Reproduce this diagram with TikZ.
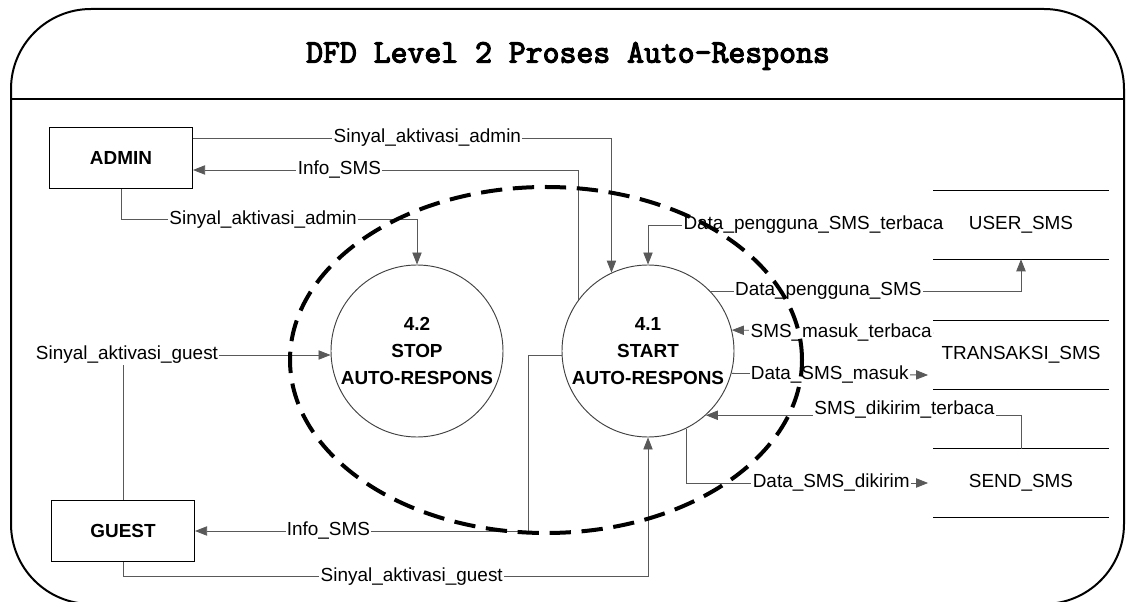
\documentclass[tikz,border=0pt]{standalone}
\usepackage{fontspec}
\setmainfont{Liberation Sans}
\newfontfamily\dfdmono{Latin Modern Mono}[FakeBold=3.5]
\usetikzlibrary{arrows.meta}
\newcommand\dfdsize{\fontsize{14.2pt}{20pt}\selectfont}

\begin{document}
\begin{tikzpicture}[x=0.75pt,y=-0.75pt,font=\dfdsize]
  \tikzset{entity/.style={draw,line width=1.1pt,minimum width=107pt,minimum height=46pt,font=\dfdsize\bfseries},
    proc/.style={circle,draw=black!75,line width=0.7pt,minimum size=129pt,inner sep=0pt,align=center,font=\dfdsize\bfseries},
    store/.style={minimum width=131pt,minimum height=51pt},
    flow/.style={draw=black!65,line width=0.6pt,-{Triangle[length=9pt,width=7pt]}},
    lbl/.style={fill=white,inner sep=1pt,text=black}}
  \useasboundingbox (0,0) rectangle (1129,602);
  \draw[line width=1.5pt,rounded corners=60pt] (11,9) rectangle (1124,604);
  \draw[line width=1.5pt] (11,99) -- (1124,99);
  \node (title) at (568,56) {\dfdmono\fontsize{24.6pt}{28pt}\selectfont DFD Level 2 Proses Auto-Respons};

  \node[entity] (admin) at (121,158) {ADMIN};
  \node[entity] (guest) at (123,531) {GUEST};
  \node[proc] (stop) at (417,351) {4.2\\STOP\\AUTO-RESPONS};
  \node[proc] (start) at (648,351) {4.1\\START\\AUTO-RESPONS};
  \node[store] (user) at (1021,225) {USER\_SMS};
  \node[store] (trans) at (1021,355) {TRANSAKSI\_SMS};
  \node[store] (send) at (1021,483) {SEND\_SMS};
  \foreach \s in {user,trans,send}
    \draw[line width=1pt] (\s.north west) -- (\s.north east) (\s.south west) -- (\s.south east);

  \draw[flow] ([yshift=15pt]admin.east) -| node[lbl,pos=0.28] {Sinyal\_aktivasi\_admin} (start.115.5);
  \draw[flow] (start.144.5) |- node[lbl,pos=0.81] {Info\_SMS} ([yshift=-9pt]admin.east);
  \draw[flow] (admin.south) |- node[lbl,pos=0.74] {Sinyal\_aktivasi\_admin} ([yshift=34pt]stop.north) -- (stop.north);
  \draw[flow] (guest.north) |- node[lbl,pos=0.5,xshift=3pt] {Sinyal\_aktivasi\_guest} ([yshift=-3pt]stop.west);
  \draw[flow] ([yshift=-3pt]start.west) -- ++(-33,0) |- node[lbl,pos=0.8] {Info\_SMS} (guest.east);
  \draw[flow] (guest.south) -- ++(0,14) -| node[lbl,pos=0.275] {Sinyal\_aktivasi\_guest} (start.south);
  \draw[flow] (user.west) -| node[lbl,pos=0.21] {Data\_pengguna\_SMS\_terbaca} (start.north);
  \draw[flow] (start.44) -| node[lbl,pos=0.19] {Data\_pengguna\_SMS} (user.south);
  \draw[flow] ([yshift=16.5pt]trans.west) -- node[lbl,pos=0,anchor=east] {SMS\_masuk\_terbaca} (start.14);
  \draw[flow] (start.-15) -- node[lbl] {Data\_SMS\_masuk} ([xshift=-4pt,yshift=-15pt]trans.west);
  \draw[flow] (send.north) |- node[lbl,pos=0.685,yshift=4pt] {SMS\_dikirim\_terbaca} (start.-48);
  \draw[flow] (start.-64) |- node[lbl,pos=0.8] {Data\_SMS\_dikirim} ([xshift=-4pt]send.west);

  \draw[line width=3pt,dash pattern=on 16pt off 8pt] (546,360) ellipse [x radius=192pt,y radius=129.75pt];
\end{tikzpicture}
\end{document}
